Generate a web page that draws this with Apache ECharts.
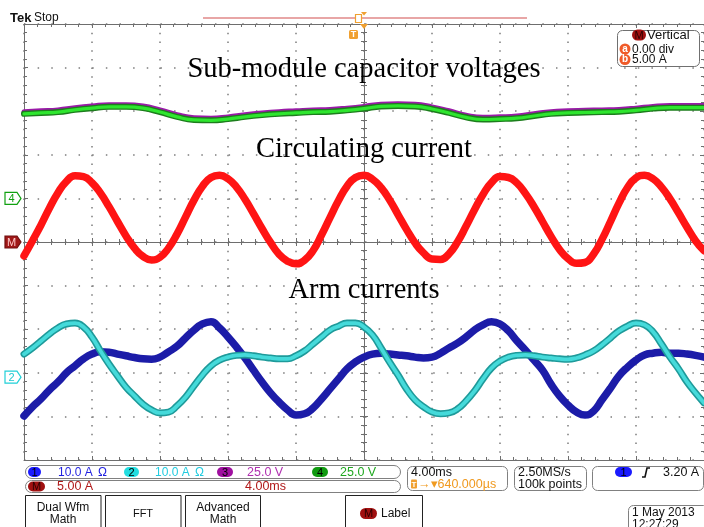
<!DOCTYPE html>
<html><head><meta charset="utf-8">
<script src="https://cdn.jsdelivr.net/npm/echarts@6/dist/echarts.min.js"></script>
<style>html,body{margin:0;padding:0;background:#fff}#c{width:704px;height:527px}</style>
</head><body><div id="c"></div>
<script>
// time axes (ms, trigger at 0), 4 ms / division
const capTimeMs = [-20,-19,-18,-17,-16,-15,-14,-13,-12,-11,-10,-9,-8,-7,-6,-5,-4,-3,-2,-1,0,1,2,3,4,5,6,7,8,9,10,11,12,13,14,15,16,17,18,19,20];
const timeMs = [-20,-19.5,-19,-18.5,-18,-17.5,-17,-16.5,-16,-15.5,-15,-14.5,-14,-13.5,-13,-12.5,-12,-11.5,-11,-10.5,
  -10,-9.5,-9,-8.5,-8,-7.5,-7,-6.5,-6,-5.5,-5,-4.5,-4,-3.5,-3,-2.5,-2,-1.5,-1,-0.5,
  0,0.5,1,1.5,2,2.5,3,3.5,4,4.5,5,5.5,6,6.5,7,7.5,8,8.5,9,9.5,
  10,10.5,11,11.5,12,12.5,13,13.5,14,14.5,15,15.5,16,16.5,17,17.5,18,18.5,19,19.5,20];
// values in screen divisions
const capVoltCh4 = [2.94,2.96,2.98,3.03,3.07,3.10,3.10,3.07,2.98,2.87,2.80,2.79,2.82,2.87,2.91,2.94,2.96,2.98,2.99,3.02,3.06,3.11,3.12,3.11,3.05,2.96,2.86,2.81,2.82,2.84,2.89,2.94,2.96,2.97,2.98,2.99,3.02,3.06,3.08,3.08,3.08];
const capVoltCh3 = [2.99,3.01,3.03,3.08,3.12,3.15,3.15,3.12,3.03,2.92,2.85,2.84,2.87,2.92,2.96,2.99,3.01,3.03,3.04,3.07,3.11,3.16,3.17,3.16,3.10,3.01,2.91,2.86,2.87,2.89,2.94,2.99,3.01,3.02,3.03,3.04,3.07,3.11,3.13,3.13,3.13];
const circulatingM = [-0.32,0.03,0.39,0.78,1.13,1.39,1.52,1.50,1.36,1.12,
  0.81,0.47,0.14,-0.14,-0.33,-0.41,-0.35,-0.14,0.18,0.57,
  0.96,1.28,1.48,1.53,1.45,1.26,0.98,0.65,0.31,-0.01,
  -0.28,-0.44,-0.50,-0.42,-0.20,0.16,0.56,0.95,1.28,1.48,
  1.53,1.44,1.25,0.97,0.63,0.29,-0.02,-0.25,-0.39,-0.40,
  -0.27,0.00,0.36,0.74,1.09,1.36,1.50,1.48,1.35,1.11,
  0.81,0.47,0.13,-0.17,-0.38,-0.49,-0.47,-0.28,0.06,0.47,
  0.89,1.25,1.47,1.53,1.45,1.26,0.99,0.67,0.34,0.03,-0.20];
const armCurrentCh1 = [-3.99,-3.78,-3.60,-3.39,-3.21,-3.00,-2.84,-2.68,-2.57,-2.52,
  -2.53,-2.57,-2.61,-2.65,-2.68,-2.69,-2.64,-2.52,-2.39,-2.20,
  -2.02,-1.88,-1.83,-1.97,-2.18,-2.41,-2.66,-2.94,-3.21,-3.46,
  -3.67,-3.85,-3.97,-3.94,-3.81,-3.60,-3.37,-3.14,-2.91,-2.75,
  -2.64,-2.57,-2.55,-2.57,-2.59,-2.61,-2.64,-2.66,-2.64,-2.55,
  -2.43,-2.32,-2.18,-2.02,-1.90,-1.83,-1.88,-2.04,-2.27,-2.48,
  -2.71,-2.94,-3.26,-3.53,-3.74,-3.90,-3.97,-3.88,-3.62,-3.35,
  -3.07,-2.87,-2.71,-2.59,-2.55,-2.53,-2.55,-2.55,-2.57,-2.60,-2.64];
const armCurrentCh2 = [-2.57,-2.43,-2.27,-2.11,-1.97,-1.88,-1.86,-1.95,-2.18,-2.50,
  -2.80,-3.07,-3.33,-3.53,-3.72,-3.85,-3.92,-3.90,-3.76,-3.56,
  -3.30,-3.05,-2.84,-2.71,-2.64,-2.60,-2.59,-2.61,-2.64,-2.66,
  -2.68,-2.68,-2.61,-2.50,-2.34,-2.18,-2.02,-1.93,-1.86,-1.86,
  -1.95,-2.13,-2.43,-2.75,-3.05,-3.37,-3.62,-3.78,-3.90,-3.94,
  -3.92,-3.83,-3.65,-3.42,-3.14,-2.89,-2.73,-2.64,-2.60,-2.59,
  -2.61,-2.64,-2.66,-2.68,-2.69,-2.66,-2.59,-2.50,-2.36,-2.20,
  -2.04,-1.93,-1.86,-1.90,-2.06,-2.34,-2.64,-2.91,-3.21,-3.46,-3.69];
const titles = ['Sub-module capacitor voltages','Circulating current','Arm currents'];

const chart = echarts.init(document.getElementById('c'), null, {renderer:'canvas'});
const GRAY = '#6e6e6e';
const DOT = '#7c7c7c';
const SANS = '"Liberation Sans", Arial, sans-serif';
const SERIF = '"Liberation Serif", "Times New Roman", serif';
function pts(times, arr){ return times.map((t,i)=>[t, arr[i]]); }
function gridAxisX(grid, pos, onZero, split){
  return {gridIndex:grid,type:'value',min:-20,max:20,interval:4,position:pos,
    axisLine:{show:true,onZero:onZero,lineStyle:{color:GRAY,width:1}},
    axisTick:{show:true,inside:true,length:4,lineStyle:{color:GRAY,width:1}},
    minorTick:{show:true,splitNumber:5,length:3,lineStyle:{color:GRAY,width:1}},
    axisLabel:{show:false},
    splitLine:{show:split,lineStyle:{color:DOT,width:1.5,type:[1.5,7.22]}},
    minorSplitLine:{show:false}};
}
function gridAxisY(grid, pos, onZero, split){
  return {gridIndex:grid,type:'value',min:-5,max:5,interval:1,position:pos,
    axisLine:{show:true,onZero:onZero,lineStyle:{color:GRAY,width:1}},
    axisTick:{show:true,inside:true,length:4,lineStyle:{color:GRAY,width:1}},
    minorTick:{show:true,splitNumber:5,length:3,lineStyle:{color:GRAY,width:1}},
    axisLabel:{show:false},
    splitLine:{show:split,lineStyle:{color:DOT,width:1.5,type:[1.5,12.14]}},
    minorSplitLine:{show:false}};
}
function line(name, times, data, color, width, z){
  return {name:name,type:'line',xAxisIndex:0,yAxisIndex:0,data:pts(times,data),smooth:0.5,
    showSymbol:false,symbol:'none',z:z,lineStyle:{color:color,width:width,cap:'round',join:'round'},silent:true,clip:false};
}
const option = {
  animation:false,
  backgroundColor:'#ffffff',
  grid:[
    {left:24,top:24,width:682,height:436,show:false},
    {left:24,top:24,width:682,height:436,show:false}
  ],
  xAxis:[gridAxisX(0,'bottom',true,true), gridAxisX(0,'top',true,false),
         gridAxisX(1,'bottom',false,false), gridAxisX(1,'top',false,false)],
  yAxis:[gridAxisY(0,'left',true,true), gridAxisY(0,'right',true,false),
         gridAxisY(1,'left',false,false), gridAxisY(1,'right',false,false)],
  series:[
    line('Ch3', capTimeMs, capVoltCh3, '#9a1aa8', 5, 3),
    line('Ch4 edge', capTimeMs, capVoltCh4, '#1d7d1d', 6, 4),
    line('Ch4', capTimeMs, capVoltCh4, '#2ee62e', 3.2, 5),
    line('Math', timeMs, circulatingM, '#ff1414', 7.5, 4),
    line('Ch1', timeMs, armCurrentCh1, '#1c1ca8', 7.5, 4),
    line('Ch2 edge', timeMs, armCurrentCh2, '#1e9a9a', 7, 5),
    line('Ch2', timeMs, armCurrentCh2, '#45dada', 3.8, 6)
  ]
};
chart.setOption(option);

const yPix = v => chart.convertToPixel({yAxisIndex:0}, v);
const xPix = v => chart.convertToPixel({xAxisIndex:0}, v);
function T(x,y,text,fill,size,opts){
  opts = opts||{};
  return {type:'text',x:x,y:y,z:100,silent:true,style:{text:text,fill:fill,
    font:(opts.weight||'normal')+' '+size+'px '+(opts.family||SANS),
    align:opts.align||'left',textAlign:opts.align||'left',
    verticalAlign:'middle',textVerticalAlign:'middle'}};
}
function R(x,y,w,h,r,fill,stroke,lw){
  return {type:'rect',z:99,silent:true,shape:{x:x,y:y,width:w,height:h,r:r},
    style:{fill:fill||'none',stroke:stroke||null,lineWidth:lw||1}};
}
function pill(x,y,w,h,fill,txt,tfill){
  return [R(x,y,w,h,h/2,fill,null), T(x+w/2,y+h/2+0.5,txt,tfill,11,{align:'center'})];
}
function tag(v,label,stroke,fill,tfill){
  const y = yPix(v);
  return [{type:'polygon',z:100,silent:true,shape:{points:[[5,y-6],[17,y-6],[21,y],[17,y+6],[5,y+6]]},
    style:{fill:fill,stroke:stroke,lineWidth:1.2}},
    T(11.5,y+0.5,label,tfill,11,{align:'center'})];
}
const g = [];
// header
g.push(T(10,18,'Tek','#111',13,{weight:'bold'}));
g.push(T(34,18,'Stop','#111',12));
g.push({type:'line',z:99,silent:true,shape:{x1:203,y1:18,x2:527,y2:18},style:{stroke:'#e08888',lineWidth:1.5}});
g.push(R(355.5,14.5,6,8,0,'#fff','#f0a030',1.2));
g.push({type:'polygon',z:100,silent:true,shape:{points:[[361,12],[367,12],[364,15.5]]},style:{fill:'#f0a030'}});
const cx = xPix(0);
g.push({type:'polygon',z:100,silent:true,shape:{points:[[cx-4,24],[cx+4,24],[cx,29]]},style:{fill:'#f0a030'}});
g.push(R(349,30,9,9,1.5,'#f0a030',null));
g.push(T(353.5,35,'T','#fff',9,{align:'center',weight:'bold'}));
// vertical box
g.push(R(617.5,30.5,82,36,5,'#fff','#707070',1));
g.push(...pill(632,29.5,14,11,'#a01010','M','#2a0000'));
g.push(T(647,35.5,'Vertical','#111',13));
g.push({type:'circle',z:100,silent:true,shape:{cx:625,cy:49,r:5.5},style:{fill:'#f05a28'}});
g.push(T(625,49,'a','#fff',10,{align:'center',weight:'bold'}));
g.push(T(632,49.5,'0.00 div','#111',12));
g.push({type:'circle',z:100,silent:true,shape:{cx:625,cy:59.5,r:5.5},style:{fill:'#f05a28'}});
g.push(T(625,59.5,'b','#fff',10,{align:'center',weight:'bold'}));
g.push(T(632,60,'5.00 A','#111',12));
// titles
g.push(T(364,70,titles[0],'#000',28.5,{align:'center',family:SERIF}));
g.push(T(364,150,titles[1],'#000',28.5,{align:'center',family:SERIF}));
g.push(T(364,291,titles[2],'#000',28.5,{align:'center',family:SERIF}));
// level tags
g.push(...tag(1,'4','#10a010','#fff','#10a010'));
g.push(...tag(0,'M','#701010','#a01818','#ffc8c8'));
g.push(...tag(-3.1,'2','#20d0d8','#fff','#20c8d0'));
// bottom status rows
g.push(R(25.5,465.5,375,13,6.5,'#fff','#808080',1));
g.push(R(25.5,480.5,375,12,6,'#fff','#808080',1));
g.push(...pill(28,467,13,10,'#1a1aff','1','#000'));
g.push(T(58,472.5,'10.0 A','#1f1fe0',12)); g.push(T(98,472.5,'Ω','#1f1fe0',12));
g.push(...pill(124,467,15,10,'#22dde0','2','#000'));
g.push(T(155,472.5,'10.0 A','#22cce0',12)); g.push(T(195,472.5,'Ω','#22cce0',12));
g.push(...pill(217,467,16,10,'#a010a0','3','#000'));
g.push(T(247,472.5,'25.0 V','#b030b0',12.5));
g.push(...pill(312,467,16,10,'#109a10','4','#000'));
g.push(T(340,472.5,'25.0 V','#20a820',12.5));
g.push(...pill(28,481.5,17,10,'#a01010','M','#2a0000'));
g.push(T(57,487,'5.00 A','#b01818',12.5));
g.push(T(245,487,'4.00ms','#b01818',12.5));
// timebase box
g.push(R(407.5,466.5,100,24,5,'#fff','#808080',1));
g.push(T(411,472.5,'4.00ms','#111',12.5));
g.push(R(411,479.5,6,9,1,'#f0a030',null));
g.push(T(414,484.5,'T','#fff',8,{align:'center',weight:'bold'}));
g.push(T(418,484.5,'→▾640.000µs','#f09a20',12.5));
g.push(R(514.5,466.5,72,24,5,'#fff','#808080',1));
g.push(T(518,472.5,'2.50MS/s','#111',12.5));
g.push(T(518,484.5,'100k points','#111',12.5));
g.push(R(592.5,466.5,111,24,5,'#fff','#808080',1));
g.push(...pill(615,467,17,10,'#1a1aff','1','#000'));
g.push({type:'polyline',z:100,silent:true,shape:{points:[[642,477],[645,477],[647,468],[650,468]]},style:{stroke:'#111',lineWidth:1.6,fill:'none'}});
g.push(T(663,472.5,'3.20 A','#111',12.5));
// buttons
[[25.5,75.5],[105.5,75.5],[185.5,75],[345.5,77]].forEach(b=>g.push(R(b[0],495.5,b[1],40,0,'#fff','#222',1)));
g.push(T(63,508,'Dual Wfm','#111',12,{align:'center'}));
g.push(T(63,520,'Math','#111',12,{align:'center'}));
g.push(T(143,514,'FFT','#111',11,{align:'center'}));
g.push(T(223,508,'Advanced','#111',12,{align:'center'}));
g.push(T(223,520,'Math','#111',12,{align:'center'}));
g.push(...pill(360,508,17,11,'#a01010','M','#2a0000'));
g.push(T(381,514,'Label','#111',12));
// date box
g.push(R(628.5,505.5,80,30,5,'#fff','#808080',1));
g.push(T(632,512.5,'1 May 2013','#111',12));
g.push(T(632,524.5,'12:27:29','#111',12));
chart.setOption({graphic:g});
</script></body></html>
